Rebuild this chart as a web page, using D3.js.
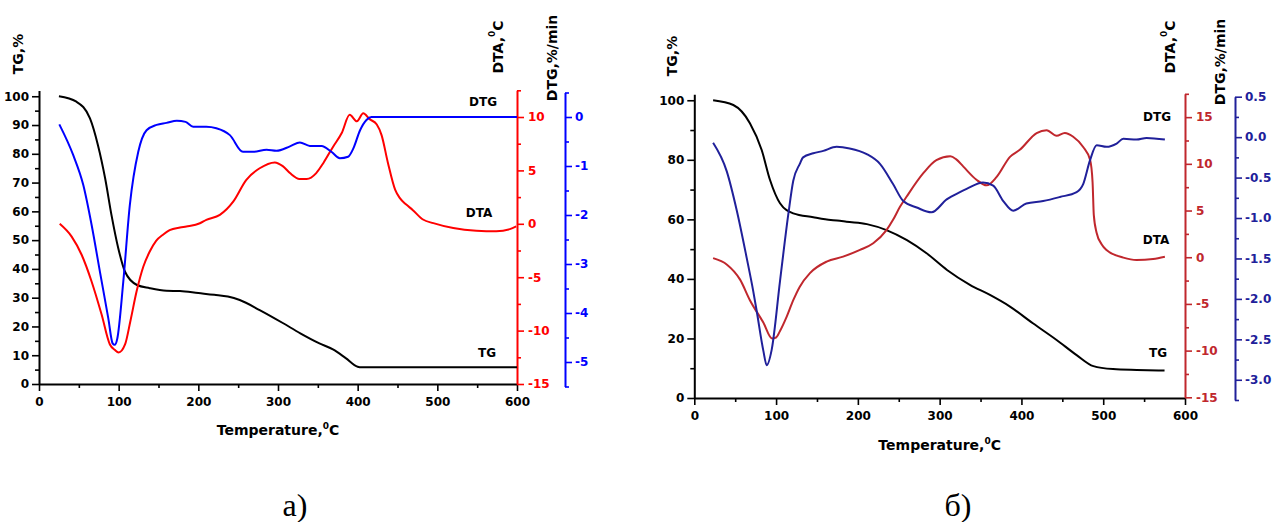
<!DOCTYPE html>
<html>
<head>
<meta charset="utf-8">
<script src="https://cdn.jsdelivr.net/npm/d3@7"></script>
<style>
  body { margin: 0; background: #fff; }
  text { font-family: "DejaVu Sans", sans-serif; font-weight: bold; }
  .caption { font-family: "Liberation Serif", serif; font-weight: normal; }
</style>
</head>
<body>
<div id="chart"></div>
<script>
// ---- data: [temperature, value] ----
const aTG = [[25,100],[47,98.1],[64,92.3],[74,83],[83,71.5],[91,58.7],[99.5,47.2],[108,39],[123,34.4],[139,33.3],[160,32.4],[177,32.3],[200,31.6],[220,31],[237,30.4],[252,29.2],[277,25.7],[306,21.2],[328,17.6],[352,14.1],[369,12],[385,9],[400,6],[405,5.8],[450,5.8],[500,5.8],[600,5.8]];
const aDTA = [[26,0],[41,-1.2],[53.5,-2.9],[66,-5.4],[78.6,-8.5],[89,-11.3],[95,-11.8],[100,-12.05],[108,-11.3],[115,-9],[122.6,-6.3],[131,-4],[139,-2.6],[147,-1.6],[156,-1.0],[164,-0.6],[177,-0.35],[185,-0.25],[202,0.05],[210,0.37],[227,0.84],[244,2.1],[260,4.1],[277,5.2],[296,5.75],[306,5.4],[315,4.75],[327,4.2],[336,4.2],[348,4.75],[357,5.7],[369,7.2],[380,8.5],[390,10.2],[399,9.6],[407,10.35],[415,9.8],[424,9.3],[430,8.3],[438,5.7],[447,3.2],[453,2.4],[461,1.8],[469,1.3],[482,0.4],[495,0.06],[520,-0.4],[549,-0.65],[574,-0.7],[591,-0.5],[599,-0.25]];
const aDTG = [[25.5,-0.15],[43,-0.78],[55.6,-1.39],[66,-2.2],[76.5,-3.16],[87,-4.11],[92.4,-4.62],[95,-4.65],[98.3,-4.52],[105.8,-3.36],[114,-1.8],[124.6,-0.71],[135,-0.27],[147.6,-0.16],[160,-0.12],[173,-0.075],[184,-0.1],[193.6,-0.2],[210,-0.2],[222.6,-0.23],[239.6,-0.37],[256,-0.71],[269,-0.71],[285.7,-0.67],[298,-0.69],[315,-0.6],[327.5,-0.52],[340,-0.59],[354.7,-0.59],[367,-0.71],[377.6,-0.84],[388,-0.81],[394.6,-0.64],[403,-0.27],[411,-0.06],[417.4,0],[450,0],[600,0]];

const bTG = [[23,100],[47.7,98.4],[68,92.3],[82.4,83.3],[92.6,73.2],[104.8,65.4],[121,62],[145.5,60.7],[160,60],[178,59.5],[186,59.2],[211,58.4],[235,56.4],[260,53],[284,48.6],[309,43],[337,38],[361.5,34.6],[386,30.7],[414,25.1],[443,19.5],[467.5,14.4],[488,10.7],[512,9.7],[541,9.4],[575,9.2]];
const bDTA = [[23,-0.1],[40,-0.8],[56,-2.4],[68,-4.6],[84.4,-7.0],[95,-8.7],[100,-8.6],[104.8,-7.9],[113,-6.36],[121,-4.6],[129,-3.15],[141.4,-1.7],[161.8,-0.47],[182,0.06],[202.6,0.78],[218.8,1.5],[235,2.9],[243,4.0],[251.5,5.4],[259.7,6.5],[280,9.0],[296,10.4],[313,10.8],[320,10.5],[329,9.7],[345,8.3],[357.5,7.7],[369.7,8.6],[386,10.75],[398,11.5],[418.6,13.3],[430.8,13.6],[443,13.0],[453,13.3],[463.3,12.9],[475.5,11.8],[484,10.4],[487,8],[488.5,4.5],[492,2.6],[498,1.4],[504,0.78],[524.6,-0.04],[540.8,-0.3],[561,-0.18],[575.4,0.06]];
const bDTG = [[23,-0.07],[39.6,-0.42],[52,-0.91],[64,-1.49],[72,-1.9],[76.3,-2.15],[84.4,-2.64],[88.5,-2.82],[94.6,-2.63],[104.8,-1.78],[115,-0.95],[121,-0.54],[129,-0.33],[133,-0.25],[145.5,-0.2],[157.7,-0.17],[174,-0.12],[190,-0.14],[210.8,-0.21],[227,-0.33],[243,-0.58],[255.5,-0.79],[272,-0.87],[290,-0.93],[308.6,-0.77],[324.8,-0.68],[333,-0.64],[353,-0.56],[365.5,-0.6],[377.8,-0.79],[390,-0.91],[406,-0.82],[426.6,-0.79],[447,-0.74],[467.5,-0.68],[475.5,-0.58],[483.7,-0.29],[492,-0.1],[504,-0.12],[516.4,-0.08],[524.6,-0.02],[540.8,-0.03],[553,-0.01],[575.4,-0.03]];

// ---- ticks ----
const xTicks = [0, 100, 200, 300, 400, 500, 600];
const xMinor = [50, 150, 250, 350, 450, 550];
const aTgTicks = [0, 10, 20, 30, 40, 50, 60, 70, 80, 90, 100];
const bTgTicks = [0, 20, 40, 60, 80, 100];
const aDtaTicks = [-15, -10, -5, 0, 5, 10];
const bDtaTicks = [-15, -10, -5, 0, 5, 10, 15];
const aDtgTicks = [-5, -4, -3, -2, -1, 0];
const bDtgTicks = [-3.0, -2.5, -2.0, -1.5, -1.0, -0.5, 0.0, 0.5];

const captions = ['a)', '\u0431)'];

const svg = d3.select('#chart').append('svg')
  .attr('width', 1275)
  .attr('height', 522);

function steps(lo, hi, step) {
  const out = [];
  for (let v = lo; v <= hi + 1e-9; v += step) out.push(+v.toFixed(3));
  return out;
}

function styleAxis(g, color) {
  g.select('.domain').attr('stroke', color).attr('stroke-width', 2);
  g.selectAll('.tick line').attr('stroke', color).attr('stroke-width', 1.6);
  g.selectAll('.tick text').attr('fill', color).style('font-size', '12px');
}

// "DTA,⁰C" style: superscript zero as a tspan
function degText(sel, before, after) {
  sel.append('tspan').text(before);
  sel.append('tspan').attr('dy', -6).style('font-size', '9px').text('0');
  sel.append('tspan').attr('dy', 6).text(after);
}

function drawPanel(p) {
  const g = svg.append('g');
  const x = d3.scaleLinear().domain([0, 600]).range([p.x0, p.x1]);
  const yTG = d3.scaleLinear().domain([0, 102]).range([p.yBottom, p.tgTop]);
  const yDTA = d3.scaleLinear().domain(p.dtaDomain).range(p.dtaRange);
  const yDTG = d3.scaleLinear().domain(p.dtgDomain).range(p.dtgRange);

  // x axis
  const gx = g.append('g').attr('transform', `translate(0,${p.yBottom})`)
    .call(d3.axisBottom(x).tickValues(xTicks).tickSize(7).tickPadding(6).tickSizeOuter(0));
  styleAxis(gx, '#000');
  const gxm = g.append('g').attr('transform', `translate(0,${p.yBottom})`)
    .call(d3.axisBottom(x).tickValues(xMinor).tickSize(4).tickFormat(''));
  gxm.select('.domain').remove();
  styleAxis(gxm, '#000');

  // TG axis
  const gy = g.append('g').attr('transform', `translate(${p.x0},0)`)
    .call(d3.axisLeft(yTG).tickValues(p.tgTicks).tickSize(7).tickPadding(3).tickSizeOuter(0));
  styleAxis(gy, '#000');
  const gym = g.append('g').attr('transform', `translate(${p.x0},0)`)
    .call(d3.axisLeft(yTG).tickValues(p.tgMinor).tickSize(4).tickFormat(''));
  gym.select('.domain').remove();
  styleAxis(gym, '#000');

  // DTA axis
  const gd = g.append('g').attr('transform', `translate(${p.x1},0)`)
    .call(d3.axisRight(yDTA).tickValues(p.dtaTicks).tickSize(7).tickPadding(4).tickSizeOuter(0)
      .tickFormat(d => String(d)));
  styleAxis(gd, p.dtaColor);
  const gdm = g.append('g').attr('transform', `translate(${p.x1},0)`)
    .call(d3.axisRight(yDTA).tickValues(p.dtaMinor).tickSize(4).tickFormat(''));
  gdm.select('.domain').remove();
  styleAxis(gdm, p.dtaColor);

  // DTG axis
  const gt = g.append('g').attr('transform', `translate(${p.dtgX},0)`)
    .call(d3.axisRight(yDTG).tickValues(p.dtgTicks).tickSize(7).tickPadding(3).tickSizeOuter(0)
      .tickFormat(p.dtgFormat));
  styleAxis(gt, p.dtgColor);
  const gtm = g.append('g').attr('transform', `translate(${p.dtgX},0)`)
    .call(d3.axisRight(yDTG).tickValues(p.dtgMinor).tickSize(4).tickFormat(''));
  gtm.select('.domain').remove();
  styleAxis(gtm, p.dtgColor);

  // curves
  const line = y => d3.line().x(d => x(d[0])).y(d => y(d[1])).curve(d3.curveMonotoneX);
  g.append('path').datum(p.tg).attr('fill', 'none').attr('stroke', '#000').attr('stroke-width', 2).attr('d', line(yTG));
  g.append('path').datum(p.dta).attr('fill', 'none').attr('stroke', p.dtaColor).attr('stroke-width', 2).attr('d', line(yDTA));
  g.append('path').datum(p.dtg).attr('fill', 'none').attr('stroke', p.dtgColor).attr('stroke-width', 2).attr('d', line(yDTG));

  // rotated titles
  const vtitle = (pos) => g.append('text')
    .attr('transform', `translate(${pos[0]},${pos[1]}) rotate(-90)`)
    .attr('text-anchor', 'middle').attr('dominant-baseline', 'central')
    .style('font-size', '14px').attr('fill', '#000');
  vtitle(p.tgTitle).text('TG,%');
  degText(vtitle(p.dtaTitle), 'DTA,', 'C');
  vtitle(p.dtgTitle).text('DTG,%/min');

  const xt = g.append('text').attr('x', (p.x0 + p.x1) / 2).attr('y', p.yBottom + p.xTitleDy)
    .attr('text-anchor', 'middle').style('font-size', '14px');
  degText(xt, 'Temperature,', 'C');

  // curve labels
  p.labels.forEach(l => g.append('text').attr('x', l[1]).attr('y', l[2])
    .attr('text-anchor', 'middle').attr('dominant-baseline', 'central')
    .style('font-size', '12px').text(l[0]));

  g.append('text').attr('class', 'caption').attr('x', p.capX).attr('y', 516)
    .attr('text-anchor', 'middle').style('font-size', '32px').text(p.caption);
}

drawPanel({
  x0: 39, x1: 517, yBottom: 384, tgTop: 90.5,
  dtaDomain: [-15, 12.5], dtaRange: [384, 90.3],
  dtgDomain: [-5.5, 0.5], dtgRange: [386.5, 92.5], dtgX: 565,
  tgTicks: aTgTicks, tgMinor: steps(5, 95, 10),
  dtaTicks: aDtaTicks, dtaMinor: steps(-12.5, 12.5, 5),
  dtgTicks: aDtgTicks, dtgMinor: steps(-5.5, 0.5, 1),
  dtgFormat: d => String(d),
  dtaColor: '#ff0000', dtgColor: '#0000ff',
  tg: aTG, dta: aDTA, dtg: aDTG,
  tgTitle: [18, 54], dtaTitle: [498, 47], dtgTitle: [552, 58],
  xTitleDy: 51,
  labels: [['DTG', 483, 102], ['DTA', 479, 213], ['TG', 487, 353]],
  capX: 295, caption: captions[0]
});

drawPanel({
  x0: 694.3, x1: 1185, yBottom: 398, tgTop: 94.3,
  dtaDomain: [-15, 17.5], dtaRange: [397.3, 93.8],
  dtgDomain: [-3.25, 0.5], dtgRange: [400, 96.7], dtgX: 1235,
  tgTicks: bTgTicks, tgMinor: steps(10, 90, 20),
  dtaTicks: bDtaTicks, dtaMinor: steps(-12.5, 17.5, 5),
  dtgTicks: bDtgTicks, dtgMinor: steps(-3.25, 0.25, 0.5),
  dtgFormat: d => d.toFixed(1),
  dtaColor: '#c0272d', dtgColor: '#20209a',
  tg: bTG, dta: bDTA, dtg: bDTG,
  tgTitle: [672, 56], dtaTitle: [1170, 47], dtgTitle: [1220, 62],
  xTitleDy: 52,
  labels: [['DTG', 1157, 117], ['DTA', 1156, 240], ['TG', 1158, 353]],
  capX: 958, caption: captions[1]
});
</script>
</body>
</html>
